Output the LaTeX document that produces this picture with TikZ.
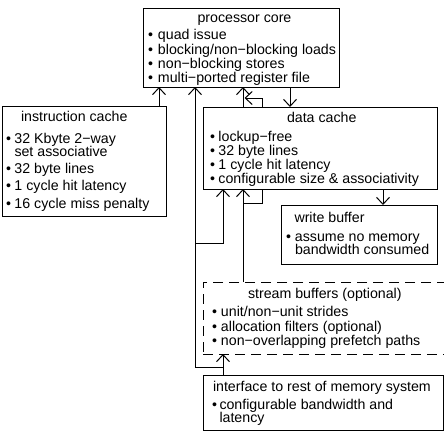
\documentclass[tikz,border=0pt]{standalone}
\usepackage{fontspec}
\setmainfont{Liberation Sans}
\usetikzlibrary{arrows.meta}
\newcommand{\bul}[1]{\makebox[#1][l]{•}}
\begin{document}
\begin{tikzpicture}[x=1pt,y=-1pt,
  box/.style={draw=black, line width=1pt, rectangle, inner sep=0pt, outer sep=0pt, anchor=north west},
  dbox/.style={box, dash pattern=on 10pt off 6pt},
  txt/.style={anchor=base west, inner sep=0pt, outer sep=0pt, font=\fontsize{14.2}{14.2}\selectfont},
  conn/.style={line width=1pt, draw=black},
  arr/.style={conn, -{Straight Barb[length=7pt,width=13pt,line width=1pt]}}]
\useasboundingbox (0,0) rectangle (444,432);
\begin{scope}
\clip (0,0) rectangle (444,432);
% boxes
\node[box, minimum width=196pt, minimum height=79pt] (proc) at (143,8) {};
\node[box, minimum width=164pt, minimum height=110pt] (icache) at (2,106) {};
\node[box, minimum width=234pt, minimum height=82pt] (dcache) at (203,107) {};
\node[box, minimum width=156pt, minimum height=59pt] (wbuf) at (281,205) {};
\node[dbox, minimum width=246pt, minimum height=72pt] (stream) at (203,282) {};
\node[box, minimum width=240pt, minimum height=55pt] (iface) at (203,375) {};
\end{scope}
% processor core text
\node[txt] (pt) at (197.5,22) {processor core};
\node[txt] (p1) at (148,39) {\bul{10pt}quad issue};
\node[txt] (p2) at (148,54) {\bul{10pt}blocking/non−blocking loads};
\node[txt] (p3) at (148,68) {\bul{10pt}non−blocking stores};
\node[txt] (p4) at (148,82.5) {\bul{10pt}multi−ported register file};
% instruction cache text
\node[txt] (it) at (21,121) {instruction cache};
\node[txt] (i1) at (6,143) {\bul{8.5pt}32 Kbyte 2−way};
\node[txt] (i1b) at (14.5,156) {set associative};
\node[txt] (i2) at (6,173) {\bul{8.5pt}32 byte lines};
\node[txt] (i3) at (6,190.5) {\bul{8.5pt}1 cycle hit latency};
\node[txt] (i4) at (6,208) {\bul{8.5pt}16 cycle miss penalty};
% data cache text
\node[txt] (dt) at (287,122) {data cache};
\node[txt] (d1) at (210,141) {\bul{8.5pt}lockup−free};
\node[txt] (d2) at (210,155) {\bul{8.5pt}32 byte lines};
\node[txt] (d3) at (210,169) {\bul{8.5pt}1 cycle hit latency};
\node[txt] (d4) at (210,183) {\bul{8.5pt}configurable size \& associativity};
% write buffer text
\node[txt] (wt) at (294.5,222) {write buffer};
\node[txt] (w1) at (286,241) {\bul{9pt}assume no memory};
\node[txt] (w1b) at (295,254) {bandwidth consumed};
% stream buffers text
\node[txt] (st) at (248,298) {stream buffers (optional)};
\node[txt] (s1) at (212,316) {\bul{9pt}unit/non−unit strides};
\node[txt] (s2) at (212,331) {\bul{9pt}allocation filters (optional)};
\node[txt] (s3) at (212,345) {\bul{9pt}non−overlapping prefetch paths};
% interface text
\node[txt] (ft) at (213,391) {interface to rest of memory system};
\node[txt] (f1) at (212,409) {\bul{7.5pt}configurable bandwidth and};
\node[txt] (f1b) at (219.5,422) {latency};
% connector guide coordinates
\coordinate (xa) at (159,0);
\coordinate (xb) at (195,0);
\coordinate (xc) at (223,0);
\coordinate (xd) at (243,0);
\coordinate (xe) at (262,0);
\coordinate (xf) at (290,0);
\coordinate (xg) at (383,0);
\coordinate (ya) at (0,98);
\coordinate (yb) at (0,203);
\coordinate (yc) at (0,243);
\coordinate (yd) at (0,367);
% connectors
\draw[arr] (xa |- icache.north) -- (xa |- proc.south);
\draw[arr] (xc |- iface.north) -- (xc |- stream.south);
\draw[arr] (xc |- yd) -| (xb |- proc.south);
\draw[arr] (xb |- yc) -| (xc |- dcache.south);
\draw[arr] (xd |- stream.north) -- (xd |- dcache.south);
\draw[conn] (xe |- dcache.south) |- (xd |- yb);
\draw[arr] (xd |- dcache.north) -- (xd |- proc.south);
\draw[arr, shorten >=1.5pt] (xe |- dcache.north) |- (xd |- ya);
\draw[arr] (xf |- proc.south) -- (xf |- dcache.north);
\draw[arr] (xg |- dcache.south) -- (xg |- wbuf.north);
\end{tikzpicture}
\end{document}
